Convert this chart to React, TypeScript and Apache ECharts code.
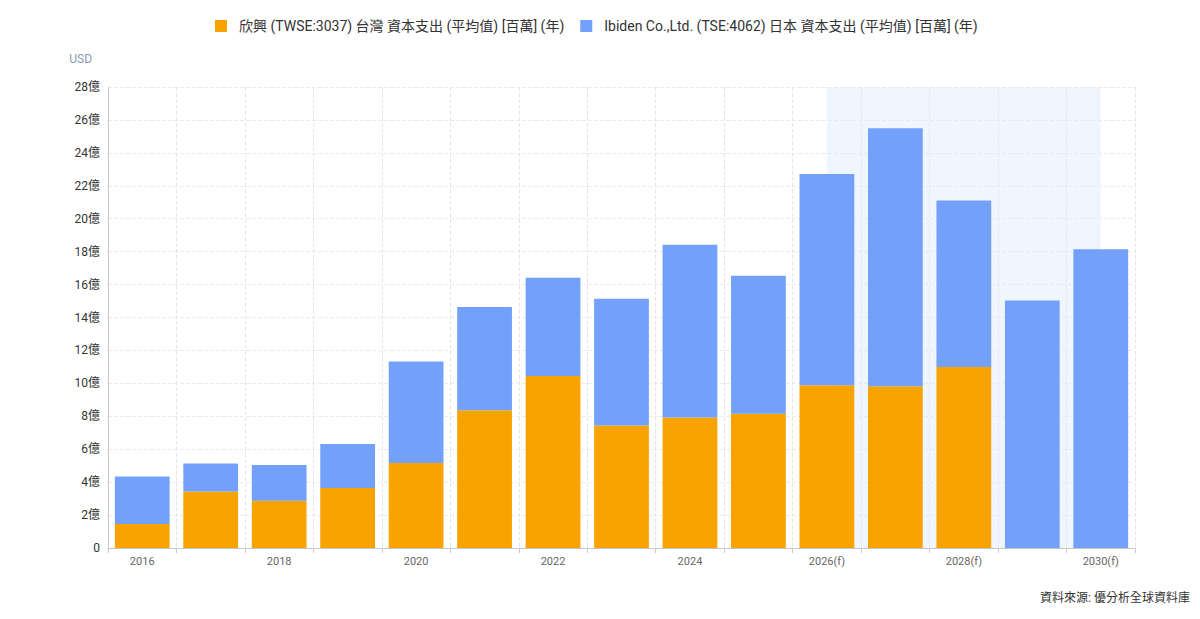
import React, { useEffect, useRef } from "react";
import * as echarts from "echarts";

const years = [
  "2016", "2017", "2018", "2019", "2020", "2021", "2022", "2023",
  "2024", "2025", "2026(f)", "2027(f)", "2028(f)", "2029(f)", "2030(f)",
];

// capex, millions USD
const unimicron = [146, 343, 287, 364, 516, 837, 1045, 744, 792, 816, 989, 983, 1100, null, null];
const ibiden = [289, 170, 217, 267, 616, 627, 596, 770, 1050, 838, 1283, 1566, 1011, 1504, 1814];

const seriesNames = [
  "欣興 (TWSE:3037) 台灣 資本支出 (平均值) [百萬] (年)",
  "Ibiden Co.,Ltd. (TSE:4062) 日本 資本支出 (平均值) [百萬] (年)",
];

const forecastRange = ["2026(f)", "2030(f)"];

const FONT = "Roboto, 'Noto Sans CJK TC', sans-serif";

export default function App() {
  const chartRef = useRef<HTMLDivElement>(null);

  useEffect(() => {
    document.body.style.margin = "0";
    if (!chartRef.current) return;
    const chart = echarts.init(chartRef.current, null, { renderer: "svg" });

    // shaded forecast band runs from centre to centre of the categories
    const fcStart = years.indexOf(forecastRange[0]);
    const fcEnd = years.indexOf(forecastRange[1]);

    const option = {
      animation: false,
      textStyle: { fontFamily: FONT },
      legend: {
        top: 14,
        left: 210,
        itemWidth: 12,
        itemHeight: 12,
        itemGap: 16,
        icon: "rect",
        textStyle: { fontSize: 14, color: "#333", fontFamily: FONT, padding: [0, 0, 0, 7] },
        data: seriesNames,
      },
      grid: { left: 108, right: 65, top: 87, bottom: 71, containLabel: false },
      xAxis: [
        {
          type: "category",
          data: years,
          axisLine: { lineStyle: { color: "#c8c8c8" } },
          axisTick: { show: true, interval: 0, lineStyle: { color: "#c8c8c8" } },
          axisLabel: {
            interval: 1,
            color: "#666",
            fontSize: 11,
            margin: 8,
            fontFamily: FONT,
          },
          splitLine: {
            show: true,
            interval: 0,
            lineStyle: { color: "#e6e6e6", type: "dashed" },
          },
        },
        {
          type: "value",
          show: false,
          min: -0.5,
          max: years.length - 0.5,
          splitLine: { show: false },
        },
      ],
      yAxis: {
        type: "value",
        min: 0,
        max: 2800,
        interval: 200,
        name: "USD",
        nameLocation: "end",
        nameGap: 22,
        nameTextStyle: { color: "#8a9bb0", fontSize: 12, align: "right", padding: [0, 16, 0, 0] },
        axisLine: { show: true, onZero: false, lineStyle: { color: "#c8c8c8" } },
        axisTick: { show: false },
        axisLabel: {
          color: "#333",
          fontSize: 12,
          margin: 8,
          fontFamily: FONT,
          formatter: (v: number) => (v === 0 ? "0" : `${v / 100}億`),
        },
        splitLine: { lineStyle: { color: "#ebebeb", type: "dashed" } },
      },
      series: [
        {
          name: "forecast",
          type: "line",
          xAxisIndex: 1,
          z: 1,
          data: [],
          markArea: {
            silent: true,
            itemStyle: { color: "rgba(222, 236, 250, 0.45)" },
            data: [[{ xAxis: fcStart }, { xAxis: fcEnd }]],
          },
        },
        {
          name: seriesNames[0],
          type: "bar",
          stack: "capex",
          barWidth: "80%",
          itemStyle: { color: "#f8a300" },
          data: unimicron,
        },
        {
          name: seriesNames[1],
          type: "bar",
          stack: "capex",
          barWidth: "80%",
          itemStyle: { color: "#73a1fa" },
          data: ibiden,
        },
      ],
      graphic: [
        {
          type: "text",
          right: 10,
          top: 592,
          style: {
            text: "資料來源: 優分析全球資料庫",
            fill: "#333",
            font: `12px ${FONT}`,
          },
        },
      ],
    };

    chart.setOption(option);
    return () => chart.dispose();
  }, []);

  return <div ref={chartRef} style={{ width: 1200, height: 619 }} />;
}
